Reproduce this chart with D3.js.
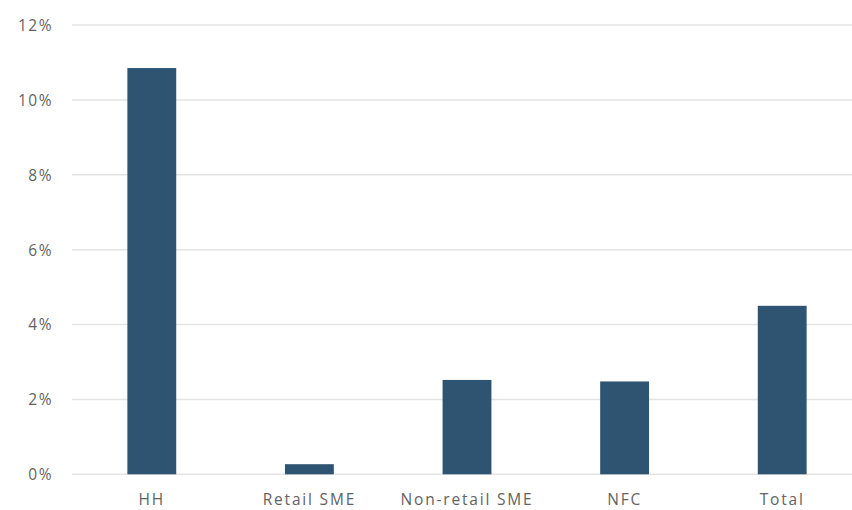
<!DOCTYPE html>
<html><head><meta charset="utf-8">
<script src="https://cdn.jsdelivr.net/npm/d3@7"></script>
<style>body{margin:0;background:#fff}svg{display:block}text{font-family:"Open Sans",sans-serif;fill:#636363}</style>
</head><body><svg id="c" width="852" height="510"></svg>
<script>
const categories = ["HH","Retail SME","Non-retail SME","NFC","Total"];
const values = [0.1085,0.0027,0.0252,0.0248,0.0450];
const yTicks = [0,0.02,0.04,0.06,0.08,0.10,0.12];

const svg = d3.select("#c");
const x = d3.scaleBand().domain(categories).range([73,861]).paddingInner(0.69).paddingOuter(0.345);
const y = d3.scaleLinear().domain([0,0.12]).range([474.3,25]);

svg.append("g").selectAll("line").data(yTicks).join("line")
  .attr("x1",72).attr("x2",852).attr("y1",d=>y(d)).attr("y2",d=>y(d))
  .attr("stroke","#e3e3e3").attr("stroke-width",1.5);

const yAxis = d3.axisLeft(y).tickValues(yTicks).tickFormat(d3.format(".0%")).tickSize(0).tickPadding(0);
const gy = svg.append("g").attr("transform","translate(53,0)").call(yAxis);
gy.select(".domain").remove();
gy.selectAll("text").attr("font-size",15.5).attr("fill","#636363").attr("dy","0.35em")
  .style("letter-spacing","1.5px").style("font-family","'Open Sans',sans-serif");

svg.append("g").selectAll("rect").data(values).join("rect")
  .attr("x",(d,i)=>x(categories[i])).attr("width",x.bandwidth())
  .attr("y",d=>y(d)).attr("height",d=>y(0)-y(d)).attr("fill","#2f5472");

const xAxis = d3.axisBottom(x).tickSize(0).tickPadding(0);
const gx = svg.append("g").attr("transform","translate(0,494)").call(xAxis);
gx.select(".domain").remove();
gx.selectAll("text").attr("font-size",15.5).attr("fill","#636363").attr("dy","0.71em")
  .style("letter-spacing","1.8px").style("font-family","'Open Sans',sans-serif");
</script></body></html>
